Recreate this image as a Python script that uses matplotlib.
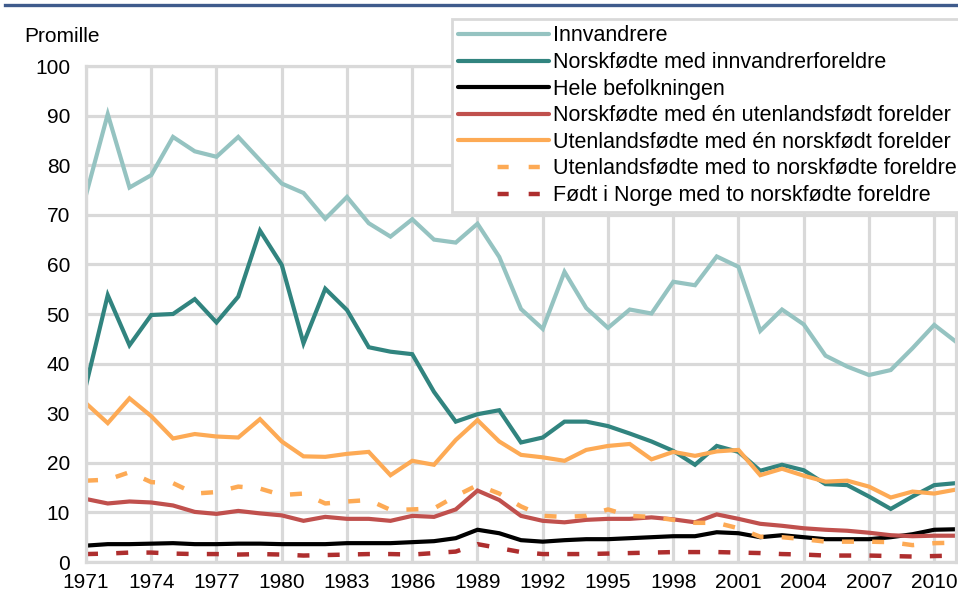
import matplotlib
matplotlib.use("Agg")
import matplotlib.pyplot as plt
from matplotlib.lines import Line2D

plt.rcParams['font.family'] = ['Liberation Sans', 'DejaVu Sans']

years = list(range(1971, 2012))
tick_years = list(range(1971, 2011, 3))

innvandrere = [74.0, 90.3, 75.5, 78.0, 85.7, 82.8, 81.7, 85.7, 81.0, 76.3,
               74.4, 69.2, 73.6, 68.3, 65.6, 69.1, 65.0, 64.4, 68.2, 61.5,
               51.0, 47.0, 58.5, 51.2, 47.2, 50.9, 50.1, 56.5, 55.8, 61.6,
               59.5, 46.6, 50.9, 47.9, 41.6, 39.4, 37.7, 38.7, 43.1, 47.8, 44.4]
norsk_innv = [35.6, 53.8, 43.7, 49.8, 50.0, 53.0, 48.3, 53.5, 66.8, 59.9,
              44.1, 55.1, 50.8, 43.3, 42.4, 41.9, 34.3, 28.3, 29.8, 30.6,
              24.1, 25.1, 28.3, 28.3, 27.4, 25.9, 24.3, 22.4, 19.6, 23.4,
              22.2, 18.4, 19.6, 18.5, 15.7, 15.5, 13.2, 10.7, 13.2, 15.5, 15.9]
hele = [3.3, 3.6, 3.6, 3.7, 3.8, 3.6, 3.6, 3.7, 3.7, 3.6,
        3.6, 3.6, 3.8, 3.8, 3.8, 4.0, 4.2, 4.8, 6.5, 5.8,
        4.4, 4.1, 4.4, 4.6, 4.6, 4.8, 5.0, 5.2, 5.2, 6.0,
        5.8, 5.0, 5.4, 5.0, 4.6, 4.6, 4.6, 5.0, 5.6, 6.5, 6.6]
norsk_en = [12.7, 11.8, 12.2, 12.0, 11.4, 10.1, 9.7, 10.3, 9.8, 9.4,
            8.3, 9.1, 8.7, 8.7, 8.3, 9.3, 9.1, 10.6, 14.4, 12.5,
            9.3, 8.3, 8.0, 8.5, 8.7, 8.7, 9.0, 8.6, 8.0, 9.6,
            8.7, 7.7, 7.3, 6.8, 6.5, 6.3, 5.9, 5.4, 5.2, 5.3, 5.3]
utl_en = [32.0, 28.0, 33.0, 29.4, 24.9, 25.8, 25.3, 25.1, 28.8, 24.3,
          21.3, 21.2, 21.8, 22.2, 17.5, 20.4, 19.6, 24.6, 28.6, 24.3,
          21.6, 21.1, 20.4, 22.6, 23.4, 23.8, 20.7, 22.2, 21.4, 22.3,
          22.6, 17.5, 18.8, 17.4, 16.2, 16.4, 15.2, 13.0, 14.2, 13.8, 14.6]
utl_to = [16.4, 16.6, 18.1, 16.1, 15.9, 13.8, 14.1, 15.2, 14.8, 13.5,
          13.8, 11.8, 12.2, 12.5, 10.5, 10.6, 10.8, 13.3, 15.5, 13.8,
          11.2, 9.3, 9.1, 9.3, 10.6, 9.3, 9.1, 8.5, 7.9, 7.9,
          6.8, 5.1, 5.0, 4.6, 4.1, 4.1, 4.1, 4.0, 3.4, 3.8, 3.9]
fodt = [1.6, 1.7, 1.9, 1.9, 1.7, 1.6, 1.6, 1.5, 1.6, 1.5,
        1.3, 1.4, 1.5, 1.6, 1.6, 1.5, 1.8, 2.1, 3.6, 2.8,
        2.0, 1.6, 1.6, 1.6, 1.7, 1.8, 1.9, 2.0, 2.0, 2.0,
        1.9, 1.8, 1.6, 1.5, 1.3, 1.3, 1.3, 1.2, 1.1, 1.2, 1.3]

labels = ["Innvandrere",
          "Norskfødte med innvandrerforeldre",
          "Hele befolkningen",
          "Norskfødte med én utenlandsfødt forelder",
          "Utenlandsfødte med én norskfødt forelder",
          "Utenlandsfødte med to norskfødte foreldre",
          "Født i Norge med to norskfødte foreldre"]
series = [innvandrere, norsk_innv, hele, norsk_en, utl_en, utl_to, fodt]
colors = ["#95c3c1", "#31847f", "#000000", "#c0504d", "#fdaa55", "#fdaa55", "#ae2e2e"]
dashed = [False, False, False, False, False, True, True]

fig = plt.figure(figsize=(9.58, 5.96), dpi=100)
ax = fig.add_axes([86/958, 1-562/596, (956-86)/958, (562-66)/596])

lw = 3.0
dlw = 3.2
for s, c, d, lab in zip(series, colors, dashed, labels):
    if d:
        ax.plot(years, s, color=c, lw=dlw, ls=(0, (2.7, 4.1)), label=lab,
                dash_capstyle='butt')
    else:
        ax.plot(years, s, color=c, lw=lw, label=lab, solid_joinstyle='miter')

ax.set_xlim(1971, 2011)
ax.set_ylim(0, 100)
ax.set_xticks(tick_years)
ax.set_yticks(range(0, 101, 10))
ax.grid(True, color="#d9d9d9", lw=2.3)
ax.set_axisbelow(True)
for sp in ax.spines.values():
    sp.set_color("#d9d9d9")
    sp.set_linewidth(2.3)
ax.tick_params(length=0, labelsize=15, pad=8)
ax.tick_params(axis='y', pad=11.5)

fig.text(24/958, 1-37/596, "Promille", fontsize=15, va='center', ha='left')

# top blue rule
fig.add_artist(Line2D([5/958, 1], [1-5/596, 1-5/596], color="#3f5b8c", lw=2.4,
                      transform=fig.transFigure))

handles = []
for c, d in zip(colors, dashed):
    if d:
        handles.append(Line2D([], [], color=c, lw=dlw, dash_capstyle='butt',
                              ls=(9.5, (2.5, 4.5, 2.5, 8.9))))
    else:
        handles.append(Line2D([], [], color=c, lw=lw, solid_capstyle='round'))
leg = fig.legend(handles, labels, loc='upper left',
                 bbox_to_anchor=(452/958, 1-19/596), fontsize=15.5,
                 frameon=True, fancybox=False, framealpha=1, edgecolor="#d9d9d9",
                 handlelength=4.2, handletextpad=0.2, labelspacing=0.26,
                 borderpad=0.3, borderaxespad=0, ncol=1)
leg.get_frame().set_linewidth(2)

fig.savefig("out.png", dpi=100)
